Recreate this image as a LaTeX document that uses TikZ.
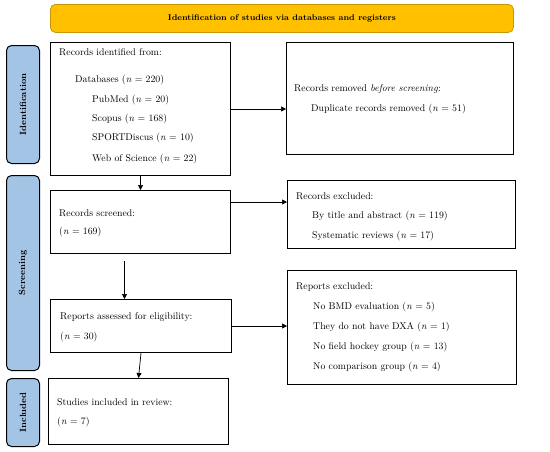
\documentclass[tikz,border=0pt]{standalone}
\usetikzlibrary{arrows.meta,calc}
\definecolor{phaseblue}{RGB}{164,196,230}
\definecolor{banner}{RGB}{255,192,0}
\definecolor{bannerline}{RGB}{200,150,0}
\begin{document}
\begin{tikzpicture}[x=1pt,y=-1pt,
  box/.style={draw, line width=1pt, inner sep=0pt, anchor=north west},
  phase/.style={draw, line width=1pt, rounded corners=5pt, fill=phaseblue, inner sep=0pt, anchor=north west, minimum width=33pt},
  phasetxt/.style={rotate=90, font=\fontsize{9}{11}\selectfont\bfseries},
  txt/.style={anchor=west, inner sep=0pt, font=\fontsize{9.8}{11}\selectfont},
  arr/.style={line width=0.7pt, -{Triangle[length=5pt,width=5pt]}}]
\useasboundingbox (0,0) rectangle (550,451);
% banner
\node[draw=bannerline, fill=banner, line width=0.8pt, rounded corners=5pt, anchor=north west, minimum width=463pt, minimum height=28pt, inner sep=0pt] (banner) at (50,4) {};
\node[font=\fontsize{8.3}{10}\selectfont\bfseries] (bannertxt) at (banner.center) {Identification of studies via databases and registers};
% phases
\node[phase, minimum height=118pt] (pid) at (6,45) {};
\node[phasetxt] (pidt) at (pid.center) {Identification};
\node[phase, minimum height=195pt] (psc) at (6,175) {};
\node[phasetxt] (psct) at (psc.center) {Screening};
\node[phase, minimum height=68pt] (pin) at (6,378) {};
\node[phasetxt] (pint) at (pin.center) {Included};
% boxes
\node[box, minimum width=180pt, minimum height=133pt] (ident) at (50,42) {};
\node[box, minimum width=227pt, minimum height=112pt] (dup) at (286,42) {};
\node[box, minimum width=180pt, minimum height=63pt] (screened) at (50,190) {};
\node[box, minimum width=228pt, minimum height=68pt] (excl) at (287,180) {};
\node[box, minimum width=181pt, minimum height=53pt] (reports) at (50,299) {};
\node[box, minimum width=229pt, minimum height=114pt] (rexcl) at (287,270) {};
\node[box, minimum width=180pt, minimum height=66pt] (incl) at (48,378) {};
% texts
\node[txt] (t1) at (59,52) {Records identified from:};
\node[txt] (t2) at (75,80) {Databases (\textit{n} = 220)};
\node[txt] (t3) at (92,100) {PubMed (\textit{n} = 20)};
\node[txt] (t4) at (92,119) {Scopus (\textit{n} = 168)};
\node[txt] (t5) at (92,138) {SPORTDiscus (\textit{n} = 10)};
\node[txt] (t6) at (92,159) {Web of Science (\textit{n} = 22)};
\node[txt] (d1) at (294,89) {Records removed \textit{before screening}:};
\node[txt] (d2) at (311,109) {Duplicate records removed (\textit{n} = 51)};
\node[txt] (s1) at (59,213) {Records screened:};
\node[txt] (s2) at (59,232) {(\textit{n} = 169)};
\node[txt] (e1) at (296,196) {Records excluded:};
\node[txt] (e2) at (312,216) {By title and abstract (\textit{n} = 119)};
\node[txt] (e3) at (312,236) {Systematic reviews (\textit{n} = 17)};
\node[txt] (r1) at (60,317) {Reports assessed for eligibility:};
\node[txt] (r2) at (60,337) {(\textit{n} = 30)};
\node[txt] (x1) at (296,287) {Reports excluded:};
\node[txt] (x2) at (313,307) {No BMD evaluation (\textit{n} = 5)};
\node[txt] (x3) at (313,327) {They do not have DXA (\textit{n} = 1)};
\node[txt] (x4) at (313,347) {No field hockey group (\textit{n} = 13)};
\node[txt] (x5) at (313,367) {No comparison group (\textit{n} = 4)};
\node[txt] (i1) at (57,402) {Studies included in review:};
\node[txt] (i2) at (57,422) {(\textit{n} = 7)};
% arrows
\coordinate (sa) at ($(screened.north east)+(0,12)$);
\coordinate (sb) at ($(screened.south)+(-16,7)$);
\coordinate (rb) at ($(reports.north)+(-16.5,0)$);
\draw[arr] (ident.east) -- (ident.east -| dup.west);
\draw[arr] (ident.south) -- (screened.north);
\draw[arr] (sa) -- (sa -| excl.west);
\draw[arr] (sb) -- (rb);
\draw[arr] (reports.east) -- (reports.east -| rexcl.west);
\draw[arr] (reports.south) -- (incl.north);
\end{tikzpicture}
\end{document}
